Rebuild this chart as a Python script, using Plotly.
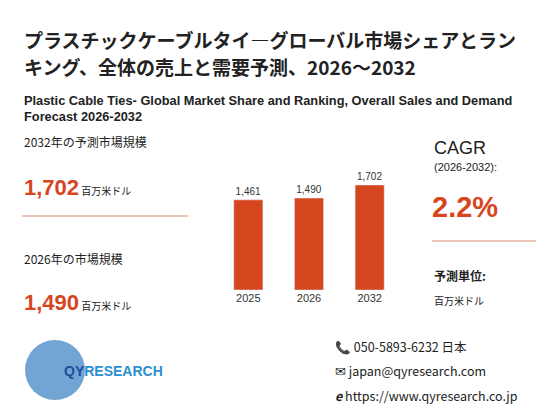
import plotly.graph_objects as go

years = ["2025", "2026", "2032"]
sales = [1461, 1490, 1702]
bar_labels = ["1,461", "1,490", "1,702"]

RED = "#d5461f"
W, H = 560, 420
FONT = "Noto Sans CJK JP"
ARIAL = "Liberation Sans"
OX, OY = 8, 8  # page offset compensation

fig = go.Figure(go.Bar(
    x=years, y=sales, marker_color=RED, text=bar_labels,
    textposition="outside", textfont=dict(size=10, color="#333", family=ARIAL),
    cliponaxis=False, hoverinfo="skip"))

def px(x, y):
    return (x - OX) / W, 1 - (y - OY) / H

anns = []
def txt(x, y, s, size, color="#222", bold=False, family=FONT):
    xx, yy = px(x, y)
    anns.append(dict(x=xx, y=yy, xref="paper", yref="paper", text=f"<b>{s}</b>" if bold else s,
                     showarrow=False, xanchor="left", yanchor="middle",
                     font=dict(size=size, color=color, family=family)))

txt(22, 40, "プラスチックケーブルタイ―グローバル市場シェアとラン", 19, bold=True)
txt(22, 67, "キング、全体の売上と需要予測、2026～2032", 19, bold=True)
txt(22, 100, "Plastic Cable Ties- Global Market Share and Ranking, Overall Sales and Demand", 12.8, bold=True, family=ARIAL)
txt(22, 117, "Forecast 2026-2032", 12.8, bold=True, family=ARIAL)
txt(22, 141, "2032年の予測市場規模", 12)
txt(22, 187, f"<b><span style='font-size:22px;color:{RED};font-family:Liberation Sans'>1,702</span></b> 百万米ドル", 10)
txt(22, 258, "2026年の市場規模", 12)
txt(22, 302, f"<b><span style='font-size:22px;color:{RED};font-family:Liberation Sans'>1,490</span></b> 百万米ドル", 10)
txt(432, 148, "CAGR", 18, family=ARIAL)
txt(432, 167, "(2026-2032):", 11, family=ARIAL)
txt(430, 207, "2.2%", 29, color=RED, bold=True, family=ARIAL)
txt(432, 275, "予測単位:", 12, bold=True)
txt(432, 300, "百万米ドル", 10)
txt(333, 346, "📞 050-5893-6232 日本", 12.5)
txt(333, 370, "✉ japan@qyresearch.com", 12.5)
txt(333, 395, "<b><i>e</i></b> https://www.qyresearch.co.jp", 12.5)
txt(62, 371, "<b><span style='color:#1a4e9a'>QY</span><span style='color:#2a8fd0'>RESEARCH</span></b>", 14, family=ARIAL)

shapes = []
def hline(x0, x1, y):
    shapes.append(dict(type="line", xref="paper", yref="paper", x0=(x0 - OX) / W, x1=(x1 - OX) / W,
                       y0=1 - (y - OY) / H, y1=1 - (y - OY) / H, line=dict(color="#d98a75", width=1)))
hline(22, 188, 216)
hline(432, 536, 241)
shapes.append(dict(type="circle", xref="paper", yref="paper", x0=(25 - OX) / W, x1=(85 - OX) / W,
                   y0=1 - (400 - OY) / H, y1=1 - (340 - OY) / H, fillcolor="#4f8fc8", line=dict(width=0),
                   layer="below", opacity=0.8))

fig.update_layout(
    width=W, height=H, margin=dict(l=0, r=0, t=0, b=0),
    paper_bgcolor="white", plot_bgcolor="white", showlegend=False,
    bargap=0.52, annotations=anns, shapes=shapes,
    xaxis=dict(domain=[(218 - OX) / W, (400 - OX) / W], showline=False, ticks="",
               tickfont=dict(size=11, color="#333", family=ARIAL)),
    yaxis=dict(domain=[1 - (290 - OY) / H, 1 - (290 - OY) / H + 0.25 * 1.25], range=[0, 1702 * 1.25],
               visible=False),
    font=dict(family=FONT),
)
fig.write_html("out.html")
